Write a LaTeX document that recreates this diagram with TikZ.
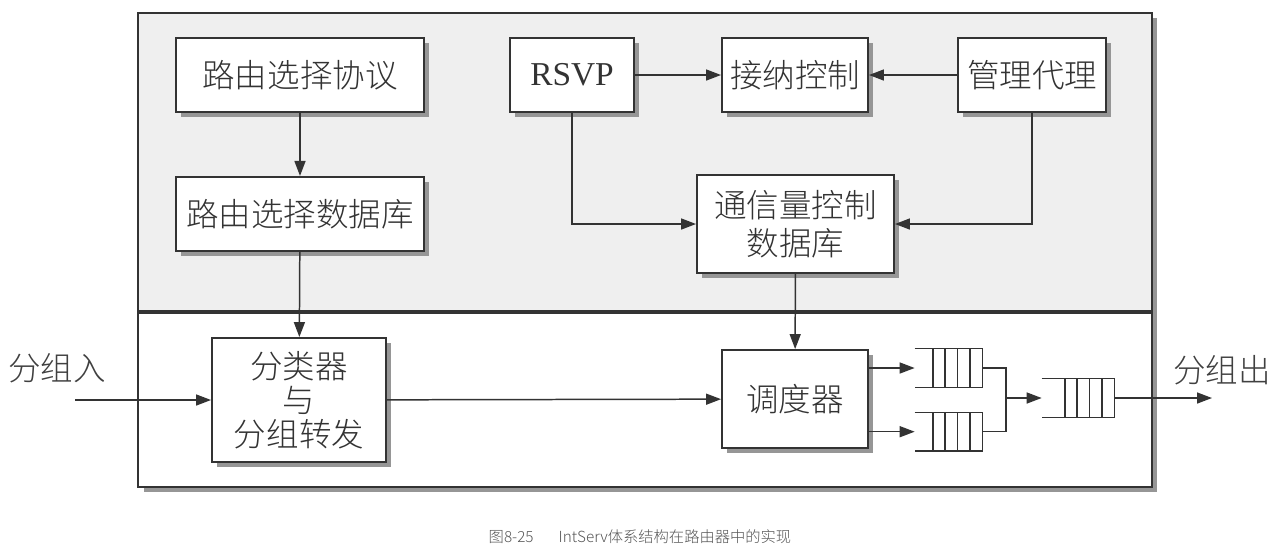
\documentclass[tikz,border=0pt]{standalone}
\usepackage{fontspec}
\setmainfont{Liberation Serif}
\newfontfamily\cjk{Noto Sans CJK SC}[UprightFont={* Light}]
\usetikzlibrary{arrows.meta, positioning, calc, shadows}
\definecolor{linegray}{RGB}{51,51,51}
\definecolor{panelgray}{RGB}{239,239,239}
\definecolor{shadowgray}{RGB}{150,150,150}
\definecolor{captiongray}{RGB}{85,85,85}
\tikzset{
  block/.style={
    rectangle, draw=linegray, line width=1.1pt, fill=white, align=center,
    inner sep=0pt, text=black!80,
    font=\cjk\fontsize{18.5}{19.5}\selectfont,
    drop shadow={shadow xshift=0.1cm, shadow yshift=-0.1cm,
                 fill=shadowgray, opacity=1}
  },
  panel/.style={
    rectangle, draw=linegray, line width=1.1pt, inner sep=0pt,
    drop shadow={shadow xshift=0.11cm, shadow yshift=-0.1cm,
                 fill=shadowgray, opacity=1}
  },
  queue/.style={rectangle, minimum height=0.76cm, inner sep=0pt},
  arrow/.style={-{Triangle[length=3mm,width=2.2mm]}, line width=0.85pt, color=linegray},
  wire/.style={line width=0.85pt, color=linegray},
  tag/.style={font=\cjk\fontsize{18.5}{19.5}\selectfont, text=black!75},
  caption/.style={font=\cjk\fontsize{8.7}{10}\selectfont, text=captiongray}
}
% open-ended queue: top, right and bottom sides plus four dividers
\newcommand{\queuelines}[1]{%
  \draw[wire] (#1.north west) -- (#1.north east) -- (#1.south east) -- (#1.south west);
  \foreach \k in {1,...,4}
    \draw[wire] ($(#1.north east)+(-\k*12.4,0)$) -- ($(#1.south east)+(-\k*12.4,0)$);
}

\begin{document}
\begin{tikzpicture}[x=0.02cm, y=-0.02cm]
  \useasboundingbox (0,0) rectangle (1277,549);

  % panels
  \node[panel, fill=panelgray, minimum width=20.28cm, minimum height=5.96cm]
    (upper) at (645,162) {};
  \node[panel, fill=white, minimum width=20.28cm, minimum height=3.52cm]
    (lower) at (645,399) {};
  \draw[linegray, line width=2.6pt] (upper.south west) -- (upper.south east);

  % control plane
  \node[block, minimum width=4.96cm, minimum height=1.48cm] (rproto) at (300,75)
    {路由选择协议};
  \node[block, minimum width=4.96cm, minimum height=1.48cm, below=1.26cm of rproto]
    (rdb) {路由选择数据库};
  \node[block, minimum width=2.48cm, minimum height=1.48cm,
        font=\rmfamily\fontsize{19}{21}\selectfont] (rsvp) at (572,75) {RSVP};
  \node[block, minimum width=2.92cm, minimum height=1.48cm] (admit) at (795,75)
    {接纳控制};
  \node[block, minimum width=2.96cm, minimum height=1.48cm] (mgmt) at (1032,75)
    {管理代理};
  \node[block, minimum width=3.94cm, minimum height=1.96cm,
        font=\cjk\fontsize{18.5}{21.5}\selectfont] (tcdb) at (795.5,224)
    {通信量控制\\数据库};

  % data plane
  \node[block, minimum width=3.48cm, minimum height=2.48cm] (cls) at (299,400)
    {分类器\\与\\分组转发};
  \node[block, minimum width=2.92cm, minimum height=1.96cm] (sched) at (795,399)
    {调度器};
  \node[queue, minimum width=1.34cm] (q1) at (948.5,368) {};
  \node[queue, minimum width=1.34cm, below=0.5cm of q1] (q2) {};
  \node[queue, minimum width=1.44cm] (q3) at (1078,398) {};
  \queuelines{q1}
  \queuelines{q2}
  \queuelines{q3}

  \node[tag] (inlbl) at (57,368) {分组入};
  \node[tag] (outlbl) at (1222,370) {分组出};
  \coordinate (pin) at (75,400);
  \coordinate (pout) at (1212,398);
  \coordinate (merge) at (1006,398);

  % connectors
  \draw[arrow] (rproto) -- (rdb);
  \draw[arrow] (rdb) -- (cls);
  \draw[arrow] (rsvp) -- (admit);
  \draw[arrow] (mgmt) -- (admit);
  \draw[arrow] (rsvp.south) |- (tcdb.west);
  \draw[arrow] (mgmt.south) |- (tcdb.east);
  \draw[arrow] (tcdb) -- (sched);
  \draw[arrow] (pin) -- (cls.west);
  \draw[arrow] (cls) -- (sched);
  \draw[arrow] (sched.east |- q1) -- (q1.west);
  \draw[arrow] (sched.east |- q2) -- (q2.west);
  \draw[wire] (q1.east) -| (merge) |- (q2.east);
  \draw[arrow] (merge) -- (q3.west);
  \draw[arrow] (q3.east) -- (pout);

  \node[caption] (cap) at (640,537)
    {图8-25\hspace{0.5cm}IntServ体系结构在路由器中的实现};
\end{tikzpicture}
\end{document}
